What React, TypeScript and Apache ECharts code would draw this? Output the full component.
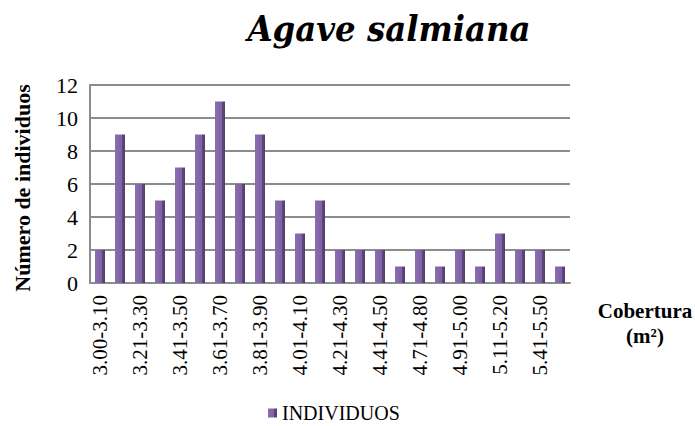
import React, { useEffect, useRef } from "react";
import * as echarts from "echarts";

const categories = [
  "3.00-3.10", "3.11-3.20", "3.21-3.30", "3.31-3.40", "3.41-3.50", "3.51-3.60",
  "3.61-3.70", "3.71-3.80", "3.81-3.90", "3.91-4.00", "4.01-4.10", "4.11-4.20",
  "4.21-4.30", "4.31-4.40", "4.41-4.50", "4.61-4.70", "4.71-4.80", "4.81-4.90",
  "4.91-5.00", "5.01-5.10", "5.11-5.20", "5.31-5.40", "5.41-5.50", "5.51-5.60",
];
const individuos = [2, 9, 6, 5, 7, 9, 11, 6, 9, 5, 3, 5, 2, 2, 2, 1, 2, 1, 2, 1, 3, 2, 2, 1];
const yTicks = [0, 2, 4, 6, 8, 10, 12];

const serif = "Liberation Serif";

export default function App() {
  const ref = useRef<HTMLDivElement>(null);
  useEffect(() => {
    document.body.style.margin = "0";
    if (!ref.current) return;
    const chart = echarts.init(ref.current, undefined, { renderer: "svg" });
    chart.setOption({
      animation: false,
      backgroundColor: "#ffffff",
      title: {
        text: "Agave salmiana",
        left: 384,
        textAlign: "center",
        top: 5,
        textStyle: { fontFamily: "DejaVu Serif Condensed", fontSize: 36, fontWeight: "bold", fontStyle: "italic", color: "#000" },
      },
      grid: { left: 90, right: 125, top: 85, bottom: 143, containLabel: false },
      legend: {
        data: ["INDIVIDUOS"],
        left: 263,
        top: 398,
        icon: "rect",
        itemWidth: 9,
        itemHeight: 9,
        itemGap: 7,
        textStyle: { fontFamily: serif, fontSize: 20, color: "#000" },
      },
      xAxis: {
        type: "category",
        data: categories,
        axisLine: { lineStyle: { color: "#8c8c8c", width: 2 } },
        axisTick: { show: false },
        axisLabel: {
          interval: 1,
          rotate: 90,
          margin: 12,
          fontFamily: serif,
          fontSize: 21,
          color: "#000",
        },
      },
      yAxis: {
        type: "value",
        min: yTicks[0],
        max: yTicks[yTicks.length - 1],
        interval: 2,
        axisLine: { show: true, lineStyle: { color: "#8c8c8c", width: 2 } },
        axisTick: { show: false },
        splitLine: { lineStyle: { color: "#8c8c8c", width: 2 } },
        axisLabel: { fontFamily: serif, fontSize: 22, color: "#000", margin: 12 },
      },
      graphic: [
        {
          type: "text",
          x: 22,
          y: 188,
          rotation: Math.PI / 2,
          style: {
            text: "Número de individuos",
            fontFamily: serif,
            fontSize: 22,
            fontWeight: "bold",
            fill: "#000",
            textAlign: "center",
            textVerticalAlign: "middle",
          },
        },
        {
          type: "text",
          x: 645,
          y: 300,
          style: {
            text: "Cobertura",
            fontFamily: serif,
            fontSize: 21,
            fontWeight: "bold",
            fill: "#000",
            textAlign: "center",
          },
        },
        {
          type: "text",
          x: 645,
          y: 325,
          style: {
            text: "(m²)",
            fontFamily: serif,
            fontSize: 21,
            fontWeight: "bold",
            fill: "#000",
            textAlign: "center",
          },
        },
      ],
      series: [
        {
          name: "INDIVIDUOS",
          type: "bar",
          data: individuos,
          barWidth: 10,
          itemStyle: {
            color: new echarts.graphic.LinearGradient(0, 0, 1, 0, [
              { offset: 0, color: "#8a6db0" },
              { offset: 0.7, color: "#7f62a3" },
              { offset: 0.71, color: "#5e4780" },
              { offset: 1, color: "#52406f" },
            ]),
          },
        },
      ],
    });
    return () => chart.dispose();
  }, []);
  return <div ref={ref} style={{ width: 695, height: 426 }} />;
}
